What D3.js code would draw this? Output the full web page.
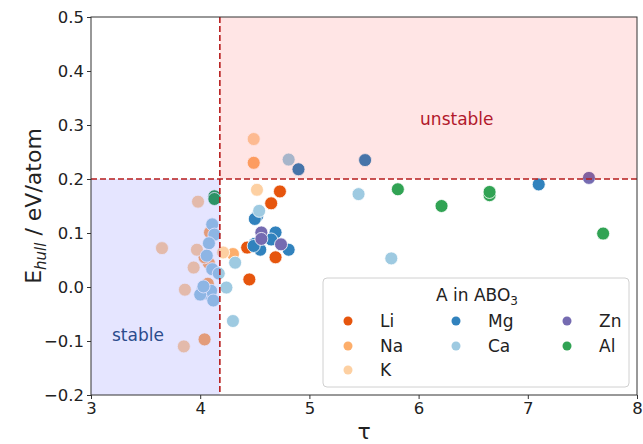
<!DOCTYPE html>
<html>
<head>
<meta charset="utf-8">
<script src="https://cdn.jsdelivr.net/npm/d3@7"></script>
<style>
  body { margin: 0; background: #fff; }
  text { font-family: "DejaVu Sans", sans-serif; }
</style>
</head>
<body>
<div id="scatter"></div>
<script>
// values: [tau, E_hull]
var liPoints = [[4.43, 0.073], [4.45, 0.014], [4.65, 0.155], [4.73, 0.177], [4.69, 0.055]];
var naPoints = [[4.49, 0.230], [4.30, 0.061], [4.04, -0.097], [4.09, 0.101], [4.08, 0.044], [4.04, 0.055], [4.07, 0.006]];
var kPoints = [[4.49, 0.274], [4.52, 0.180], [4.21, 0.064], [3.65, 0.072], [3.98, 0.158], [3.97, 0.069],
  [3.94, 0.036], [3.86, -0.005], [3.85, -0.110]];
var mgPoints = [[4.90, 0.218], [5.51, 0.235], [4.52, 0.131], [4.50, 0.126], [4.69, 0.101], [4.65, 0.088],
  [4.81, 0.069], [4.50, 0.080], [4.55, 0.069], [4.49, 0.076], [7.10, 0.190]];
var caPoints = [[4.81, 0.236], [4.54, 0.141], [5.45, 0.172], [5.75, 0.053], [4.32, 0.045], [4.24, -0.001],
  [4.30, -0.063], [4.11, 0.116], [4.13, 0.097], [4.08, 0.081], [4.06, 0.058], [4.11, 0.033], [4.17, 0.025],
  [4.02, -0.006], [4.06, -0.012], [4.10, -0.007], [4.00, -0.014], [4.03, 0.001], [4.12, -0.025]];
var znPoints = [[4.56, 0.101], [4.56, 0.089], [4.74, 0.079], [7.56, 0.202]];
var alPoints = [[4.13, 0.168], [4.13, 0.163], [5.81, 0.181], [6.21, 0.150], [6.65, 0.170], [6.65, 0.176], [7.69, 0.099]];

var elements = ["Li", "Na", "K", "Mg", "Ca", "Zn", "Al"];
var elementPoints = [liPoints, naPoints, kPoints, mgPoints, caPoints, znPoints, alPoints];
var elementColors = ["#e6550d", "#fdae6b", "#fdd0a2", "#3182bd", "#9ecae1", "#756bb1", "#31a354"];

var xTicks = [3, 4, 5, 6, 7, 8];
var yTicks = [-0.2, -0.1, 0.0, 0.1, 0.2, 0.3, 0.4, 0.5];
var tauLimit = 4.18;
var eLimit = 0.2;

var svgWidth = 643;
var svgHeight = 444;

var margin = { top: 17, right: 6, bottom: 49, left: 91 };
var width = svgWidth - margin.left - margin.right;
var height = svgHeight - margin.top - margin.bottom;

var svg = d3.select("#scatter")
  .append("svg")
  .attr("width", svgWidth)
  .attr("height", svgHeight);

var chartGroup = svg.append("g")
  .attr("transform", `translate(${margin.left}, ${margin.top})`);

var xScale = d3.scaleLinear().domain([3, 8]).range([0, width]);
var yScale = d3.scaleLinear().domain([-0.2, 0.5]).range([height, 0]);

// flatten into one list, in the order of the legend
var allPoints = [];
elements.forEach(function (el, i) {
  elementPoints[i].forEach(function (p) {
    allPoints.push({ el: el, tau: p[0], e: p[1], color: elementColors[i] });
  });
});

chartGroup.selectAll("circle.pt")
  .data(allPoints)
  .enter()
  .append("circle")
  .attr("class", "pt")
  .attr("cx", d => xScale(d.tau))
  .attr("cy", d => yScale(d.e))
  .attr("r", 6.5)
  .attr("fill", d => d.color)
  .attr("stroke", "#fff")
  .attr("stroke-width", 0.8);

// shaded regions over the points
chartGroup.append("rect")
  .attr("x", xScale(tauLimit))
  .attr("y", 0)
  .attr("width", width - xScale(tauLimit))
  .attr("height", yScale(eLimit))
  .attr("fill", "rgba(255,0,0,0.1)");

chartGroup.append("rect")
  .attr("x", 0)
  .attr("y", yScale(eLimit))
  .attr("width", xScale(tauLimit))
  .attr("height", height - yScale(eLimit))
  .attr("fill", "rgba(0,0,255,0.1)");

// dashed limits
chartGroup.append("line")
  .attr("x1", 0).attr("x2", width)
  .attr("y1", yScale(eLimit)).attr("y2", yScale(eLimit))
  .attr("stroke", "#b71c1c").attr("stroke-width", 1.6)
  .attr("stroke-dasharray", "6,3");

chartGroup.append("line")
  .attr("x1", xScale(tauLimit)).attr("x2", xScale(tauLimit))
  .attr("y1", 0).attr("y2", height)
  .attr("stroke", "#b71c1c").attr("stroke-width", 1.6)
  .attr("stroke-dasharray", "6,3");

chartGroup.append("text")
  .attr("x", xScale(6.35))
  .attr("y", yScale(0.31))
  .attr("text-anchor", "middle")
  .attr("dominant-baseline", "middle")
  .style("font-size", "17px")
  .style("fill", "#b2182b")
  .text("unstable");

chartGroup.append("text")
  .attr("x", xScale(3.43))
  .attr("y", yScale(-0.09))
  .attr("text-anchor", "middle")
  .attr("dominant-baseline", "middle")
  .style("font-size", "17px")
  .style("fill", "#2b4c8c")
  .text("stable");

// axes
var bottomAxis = d3.axisBottom(xScale)
  .tickValues(xTicks)
  .tickFormat(d3.format("d"))
  .tickSize(4)
  .tickSizeOuter(0)
  .tickPadding(3);
var leftAxis = d3.axisLeft(yScale)
  .tickValues(yTicks)
  .tickFormat(d3.format(".1f"))
  .tickSize(4)
  .tickSizeOuter(0)
  .tickPadding(3);

var xAxisG = chartGroup.append("g")
  .attr("transform", `translate(0, ${height})`)
  .call(bottomAxis);
var yAxisG = chartGroup.append("g")
  .call(leftAxis);

[xAxisG, yAxisG].forEach(function (g) {
  g.select(".domain").remove();
  g.selectAll("line").attr("stroke", "#333");
  g.selectAll("text").style("font-size", "16.5px").style("fill", "#222")
    .style("font-family", "'DejaVu Sans', sans-serif");
});

chartGroup.append("rect")
  .attr("x", 0).attr("y", 0)
  .attr("width", width).attr("height", height)
  .attr("fill", "none")
  .attr("stroke", "#333")
  .attr("stroke-width", 1);

// axis labels
chartGroup.append("text")
  .attr("x", width / 2)
  .attr("y", height + 44)
  .attr("text-anchor", "middle")
  .style("font-size", "22px")
  .style("fill", "#222")
  .text("τ");

var yLabel = chartGroup.append("text")
  .attr("transform", `translate(${-margin.left + 41}, ${height / 2}) rotate(-90)`)
  .attr("text-anchor", "middle")
  .style("font-size", "22px")
  .style("fill", "#222");
yLabel.append("tspan").text("E");
yLabel.append("tspan").attr("dy", 5).style("font-size", "15px").style("font-style", "italic").text("hull");
yLabel.append("tspan").attr("dy", -5).text(" / eV/atom");

// legend
var legend = chartGroup.append("g")
  .attr("transform", `translate(${323 - margin.left}, ${278 - margin.top})`);

legend.append("rect")
  .attr("width", 306).attr("height", 109)
  .attr("rx", 4)
  .attr("fill", "rgba(255,255,255,0.85)")
  .attr("stroke", "#d0d0d0");

var legendTitle = legend.append("text")
  .attr("x", 154).attr("y", 23)
  .attr("text-anchor", "middle")
  .style("font-size", "17px")
  .style("fill", "#222");
legendTitle.append("tspan").text("A in ABO");
legendTitle.append("tspan").attr("dy", 4).style("font-size", "12px").text("3");

var colX = [25, 133, 244];
var rowY = [43, 68, 92];
// column-major like matplotlib legends with ncol=3
var legendPos = [[0, 0], [0, 1], [0, 2], [1, 0], [1, 1], [2, 0], [2, 1]];

elements.forEach(function (el, i) {
  var cx = colX[legendPos[i][0]];
  var cy = rowY[legendPos[i][1]];
  legend.append("circle")
    .attr("cx", cx).attr("cy", cy).attr("r", 4.5)
    .attr("fill", elementColors[i]);
  legend.append("text")
    .attr("x", cx + 32).attr("y", cy)
    .attr("dominant-baseline", "central")
    .style("font-size", "17px")
    .style("fill", "#222")
    .text(el);
});
</script>
</body>
</html>
